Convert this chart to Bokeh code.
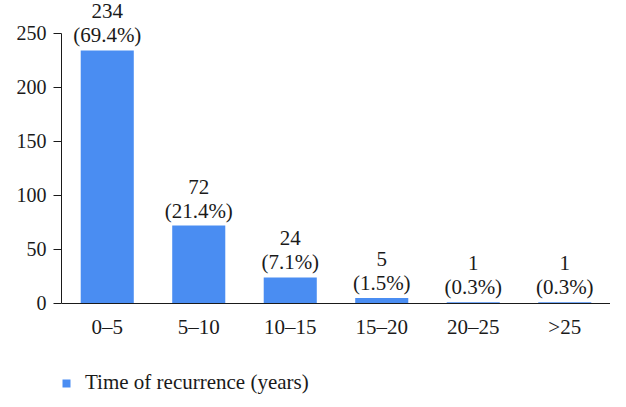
from bokeh.plotting import figure
from bokeh.models import Range1d, ColumnDataSource, Legend, LegendItem, FixedTicker
from bokeh.core.properties import value
from bokeh.embed import file_html
from bokeh.resources import INLINE

categories = ["0\u20135", "5\u201310", "10\u201315", "15\u201320", "20\u201325", ">25"]
counts = [234, 72, 24, 5, 1, 1]
percents = ["69.4%", "21.4%", "7.1%", "1.5%", "0.3%", "0.3%"]
y_ticks = [0, 50, 100, 150, 200, 250]
series_name = "Time of recurrence (years)"

labels = [f"{c}\n({pc})" for c, pc in zip(counts, percents)]
src = ColumnDataSource(dict(cat=categories, val=counts, lab=labels))

FONT = "Liberation Serif"
BAR = "#4A8DF2"
INK = "#1a1a1a"

# frame reaches down to the legend row; the x axis sits at y = 0
p = figure(frame_width=549, frame_height=400, x_range=categories, y_range=Range1d(-89.8, 280.2),
           output_backend="svg", toolbar_location=None,
           min_border_left=61, min_border_right=0, min_border_top=0, min_border_bottom=0)
p.outline_line_color = None
p.grid.visible = False
p.x_range.range_padding = 0

r = p.vbar(x="cat", top="val", width=0.58, source=src, color=BAR, line_color=None)

p.text(x="cat", y="val", text="lab", source=src, text_align="center", text_baseline="bottom",
       y_offset=-3, text_font=value(FONT), text_font_size="21px", text_color=INK,
       text_line_height=1.0)

p.yaxis.bounds = (0, 250)
p.yaxis.ticker = FixedTicker(ticks=y_ticks)
p.yaxis.major_tick_out = 8
p.yaxis.major_tick_in = 0
p.yaxis.minor_tick_line_color = None
p.yaxis.major_label_standoff = 7
p.yaxis.axis_line_color = INK
p.yaxis.major_tick_line_color = INK
p.yaxis.major_label_text_font_size = "20px"

p.xaxis.fixed_location = 0
p.xaxis.major_tick_line_color = None
p.xaxis.minor_tick_line_color = None
p.xaxis.major_label_standoff = 6
p.xaxis.axis_line_color = INK
p.xaxis.major_label_text_font_size = "21px"

for ax in (p.xaxis, p.yaxis):
    ax.major_label_text_font = FONT
    ax.major_label_text_color = INK

legend = Legend(items=[LegendItem(label=series_name, renderers=[r])],
                location=(0, 5), orientation="horizontal",
                glyph_width=10, glyph_height=10, label_standoff=14,
                label_text_font=FONT, label_text_font_size="21px", label_text_color=INK,
                border_line_color=None, background_fill_alpha=0, padding=0, margin=0)
p.add_layout(legend, "center")

html = file_html(p, INLINE)
open("out.html", "w").write(html)
